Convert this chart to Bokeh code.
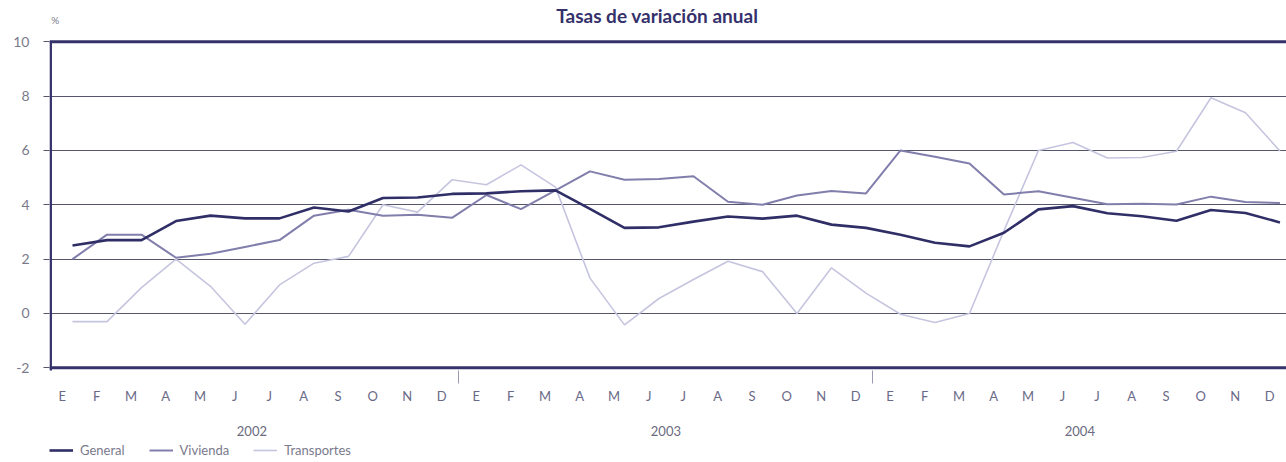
from bokeh.plotting import figure
from bokeh.layouts import column
from bokeh.models import Range1d, FixedTicker, LinearAxis, Span, Legend, LegendItem, Label
from bokeh.embed import file_html
from bokeh.resources import INLINE

# ---- data -------------------------------------------------------------
meses = ["E", "F", "M", "A", "M", "J", "J", "A", "S", "O", "N", "D"]
anios = ["2002", "2003", "2004"]
y_ticks = [-2, 0, 2, 4, 6, 8, 10]
series_names = ["General", "Vivienda", "Transportes"]

general = [2.5, 2.7, 2.7, 3.4, 3.6, 3.5, 3.5, 3.9, 3.75, 4.25, 4.27, 4.4,
           4.42, 4.5, 4.53, 3.85, 3.15, 3.17, 3.38, 3.57, 3.49, 3.6, 3.27, 3.15,
           2.9, 2.6, 2.47, 2.97, 3.83, 3.95, 3.69, 3.58, 3.41, 3.81, 3.7, 3.35]
vivienda = [2.0, 2.9, 2.9, 2.05, 2.2, 2.45, 2.7, 3.6, 3.82, 3.6, 3.63, 3.52,
            4.36, 3.84, 4.53, 5.23, 4.92, 4.95, 5.05, 4.11, 4.0, 4.34, 4.51, 4.42,
            6.0, 5.77, 5.52, 4.38, 4.5, 4.26, 4.02, 4.04, 4.01, 4.3, 4.1, 4.07]
transportes = [-0.3, -0.3, 0.95, 2.0, 1.0, -0.4, 1.05, 1.85, 2.1, 4.0, 3.73, 4.92,
               4.74, 5.47, 4.65, 1.3, -0.42, 0.55, 1.25, 1.92, 1.54, 0.0, 1.68, 0.75,
               -0.03, -0.33, 0.0, 3.05, 6.0, 6.29, 5.72, 5.74, 5.97, 7.94, 7.39, 5.98]

# ---- layout helpers ---------------------------------------------------
n = len(general)
shift = 0.3                       # lines sit slightly right of the month labels
xs = [i + shift for i in range(n)]
month_ticks = list(range(n))
month_overrides = {i: meses[i % 12] for i in month_ticks}
year_ticks = [12 * k + 5.5 for k in range(len(anios))]
year_overrides = {t: a for t, a in zip(year_ticks, anios)}
year_bounds = [12 * k - 0.5 for k in range(1, len(anios))]

NAVY = "#34316b"
GRID = "#55556c"
TXT = "#7a7a8c"
FONT = "Lato"
C_GEN, C_VIV, C_TRA = "#302e66", "#817eac", "#c6c5df"
W_GEN, W_VIV, W_TRA = 2.6, 2.0, 1.6

X0, X1 = -0.367, 35.49
Y0, Y1 = -2.1, 11.52
p = figure(width=1286, height=438, output_backend="svg", toolbar_location=None,
           x_range=Range1d(X0, X1), y_range=Range1d(Y0, Y1),
           min_border_left=49, min_border_right=0, min_border_top=0,
           min_border_bottom=0)
p.outline_line_color = None
p.background_fill_color = "white"
p.border_fill_color = "white"

# y axis (its line is replaced by the frame segment below)
p.yaxis.ticker = FixedTicker(ticks=y_ticks)
p.yaxis.major_label_overrides = {t: str(t) for t in y_ticks}
p.yaxis.axis_line_color = None
p.yaxis.major_tick_out = 6
p.yaxis.major_tick_in = 0
p.yaxis.major_tick_line_color = GRID
p.yaxis.minor_tick_line_color = None
p.yaxis.major_label_standoff = 14
p.yaxis.major_label_text_font = FONT
p.yaxis.major_label_text_font_size = "14px"
p.yaxis.major_label_text_color = TXT

p.ygrid.ticker = FixedTicker(ticks=[t for t in y_ticks if -2 < t < 10])
p.ygrid.grid_line_color = GRID
p.ygrid.grid_line_width = 1.2
p.xgrid.visible = False

# month axis
p.xaxis.ticker = FixedTicker(ticks=month_ticks, minor_ticks=year_bounds)
p.xaxis.major_label_overrides = month_overrides
p.xaxis.axis_line_color = None
p.xaxis.major_tick_line_color = None
p.xaxis.major_tick_out = 0
p.xaxis.major_tick_in = 0
p.xaxis.minor_tick_out = 13
p.xaxis.minor_tick_in = 0
p.xaxis.minor_tick_line_color = "#9a9aae"
p.xaxis.major_label_standoff = 4
p.xaxis.major_label_text_font = FONT
p.xaxis.major_label_text_font_size = "13px"
p.xaxis.major_label_text_color = "#6a6a88"

# year axis
ya = LinearAxis(ticker=FixedTicker(ticks=year_ticks),
                major_label_overrides=year_overrides)
ya.axis_line_color = None
ya.major_tick_line_color = None
ya.minor_tick_line_color = None
ya.major_tick_out = 0
ya.major_tick_in = 0
ya.major_label_standoff = 19
ya.major_label_text_font = FONT
ya.major_label_text_font_size = "13px"
ya.major_label_text_color = "#6a6a80"
p.add_layout(ya, "below")

# frame: top / bottom borders and left border
p.add_layout(Span(location=max(y_ticks), dimension="width", line_color=NAVY, line_width=3))
p.add_layout(Span(location=min(y_ticks), dimension="width", line_color=NAVY, line_width=3))
p.segment(x0=[X0 + 0.035], y0=[min(y_ticks) - 0.3], x1=[X0 + 0.035], y1=[max(y_ticks)],
          line_color=NAVY, line_width=2.5)

# series
p.line(xs, transportes, line_color=C_TRA, line_width=W_TRA)
p.line(xs, vivienda, line_color=C_VIV, line_width=W_VIV)
p.line(xs, general, line_color=C_GEN, line_width=W_GEN)

# title and unit, drawn in the space above the top border
p.add_layout(Label(x=17.25, y=10.96, text="Tasas de variación anual",
                   text_font=FONT, text_font_size="19px", text_font_style="bold",
                   text_color=NAVY, text_align="center", text_baseline="middle"))
p.add_layout(Label(x=X0 + 0.05, y=10.82, text="%", text_font=FONT,
                   text_font_size="10px", text_color=TXT, text_baseline="middle"))

# ---- legend strip -----------------------------------------------------
q = figure(width=1286, height=22, output_backend="svg", toolbar_location=None,
           x_axis_type=None, y_axis_type=None, x_range=Range1d(0, 1), y_range=Range1d(0, 1),
           min_border=0)
q.outline_line_color = None
q.grid.visible = False
# placeholder renderers (one point outside the range) so that legend swatches draw
rg = q.line([-1], [-1], line_color=C_GEN, line_width=W_GEN)
rv = q.line([-1], [-1], line_color=C_VIV, line_width=W_VIV)
rt = q.line([-1], [-1], line_color=C_TRA, line_width=W_TRA)
legend = Legend(items=[LegendItem(label=nm, renderers=[r])
                       for nm, r in zip(series_names, [rg, rv, rt])],
                orientation="horizontal", location=(0, 2))
legend.border_line_color = None
legend.background_fill_alpha = 0
legend.margin = 0
legend.padding = 0
legend.spacing = 24
legend.glyph_width = 24
legend.glyph_height = 16
legend.label_height = 16
legend.label_standoff = 7
legend.label_text_font = FONT
legend.label_text_font_size = "13px"
legend.label_text_color = TXT
q.add_layout(legend)

open("out.html", "w").write(file_html(column(p, q, spacing=0), INLINE))
